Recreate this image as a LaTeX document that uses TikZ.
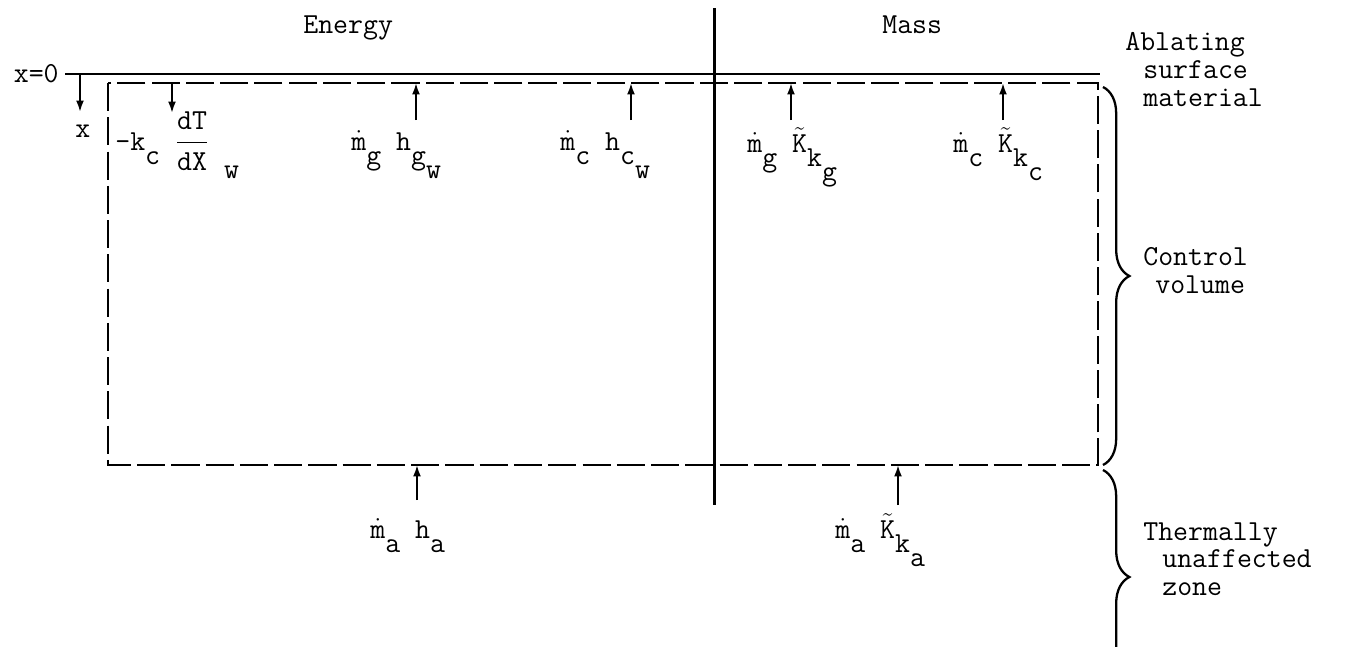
\documentclass[tikz,border=0pt]{standalone}
\usepackage{fontspec}
\usetikzlibrary{arrows.meta,decorations.pathreplacing}

% lowered (same size) subscript, as typed on the original
\newcommand{\lowr}[1]{\raisebox{-0.5em}{#1}}
\newcommand{\mdot}{$\dot{\mbox{m}}$}
\newcommand{\Ktil}{$\tilde{\mbox{K}}$}

\begin{document}
\begin{tikzpicture}[
        x=0.02cm, y=-0.02cm,
        >={Latex[length=6.5pt,width=4.5pt]},
        every node/.style={font=\ttfamily\fontsize{16.5}{19}\selectfont, inner sep=0pt},
        lbl/.style={anchor=base west},
        bound/.style={line width=1.1pt, dash pattern=on 16pt off 3.5pt},
        flux/.style={->, line width=1.1pt},
        brc/.style={decorate, line width=1.3pt, decoration={brace, amplitude=15pt}},
        ]
        \clip (0,0) rectangle (1349,646);

        % Headings
        \node (energy) [lbl] at (303,33) {Energy};
        \node (mass) [lbl] at (882,33) {Mass};

        % Surface, divider and control volume
        \node (xzero) [anchor=base east] at (59,82) {x=0};
        \coordinate (surfL) at (65,74);
        \coordinate (surfR) at (1100,74);
        \draw[line width=1.7pt] (surfL) -- (surfR);
        \coordinate (divT) at (714,8);
        \coordinate (divB) at (714,505);
        \draw[line width=1.7pt] (divT) -- (divB);
        \coordinate (cvNW) at (108,83);
        \coordinate (cvSE) at (1098,465);
        \draw[bound] (cvNW) rectangle (cvSE);

        % Depth coordinate
        \coordinate (xtop) at (80,74);
        \coordinate (xtip) at (80,112);
        \draw[flux] (xtop) -- (xtip);
        \node (xdepth) [lbl] at (75,137) {x};

        % Fluxes at the wall
        \coordinate (qtop) at (172,83);
        \coordinate (qtip) at (172,113);
        \draw[flux] (qtop) -- (qtip);
        \node (qcond) [lbl] at (115,150) {-k\lowr{c} ${\displaystyle\frac{\mbox{dT}}{\mbox{dX}}}$ \lowr{\lowr{w}}};

        \coordinate (gE0) at (416,120);
        \coordinate (gE1) at (416,83);
        \draw[flux] (gE0) -- (gE1);
        \node (gasE) [lbl] at (351,150) {\mdot\lowr{g} h\lowr{g\lowr{w}}};

        \coordinate (cE0) at (631,120);
        \coordinate (cE1) at (631,83);
        \draw[flux] (cE0) -- (cE1);
        \node (charE) [lbl] at (560,150) {\mdot\lowr{c} h\lowr{c\lowr{w}}};

        \coordinate (gM0) at (791,120);
        \coordinate (gM1) at (791,83);
        \draw[flux] (gM0) -- (gM1);
        \node (gasM) [lbl] at (747,152) {\mdot\lowr{g} \Ktil\lowr{k\lowr{g}}};

        \coordinate (cM0) at (1003,120);
        \coordinate (cM1) at (1003,83);
        \draw[flux] (cM0) -- (cM1);
        \node (charM) [lbl] at (953,152) {\mdot\lowr{c} \Ktil\lowr{k\lowr{c}}};

        % Fluxes from the virgin material
        \coordinate (aE0) at (417,500);
        \coordinate (aE1) at (417,465);
        \draw[flux] (aE0) -- (aE1);
        \node (virgE) [lbl] at (370,538) {\mdot\lowr{a} h\lowr{a}};

        \coordinate (aM0) at (898,505);
        \coordinate (aM1) at (898,465);
        \draw[flux] (aM0) -- (aM1);
        \node (virgM) [lbl] at (835,538) {\mdot\lowr{a} \Ktil\lowr{k\lowr{a}}};

        % Zones
        \node (abl1) [lbl] at (1125,50) {Ablating};
        \node (abl2) [lbl] at (1143,78) {surface};
        \node (abl3) [lbl] at (1143,106) {material};

        \coordinate (cvT) at (1103,87);
        \coordinate (cvB) at (1103,465);
        \draw[brc] (cvT) -- (cvB);
        \node (cv1) [lbl] at (1143,265) {Control};
        \node (cv2) [lbl] at (1155,293) {volume};

        \coordinate (tuT) at (1103,470);
        \coordinate (tuB) at (1103,684);
        \draw[brc] (tuT) -- (tuB);
        \node (tu1) [lbl] at (1143,540) {Thermally};
        \node (tu2) [lbl] at (1162,567) {unaffected};
        \node (tu3) [lbl] at (1162,595) {zone};

    \end{tikzpicture}
\end{document}
